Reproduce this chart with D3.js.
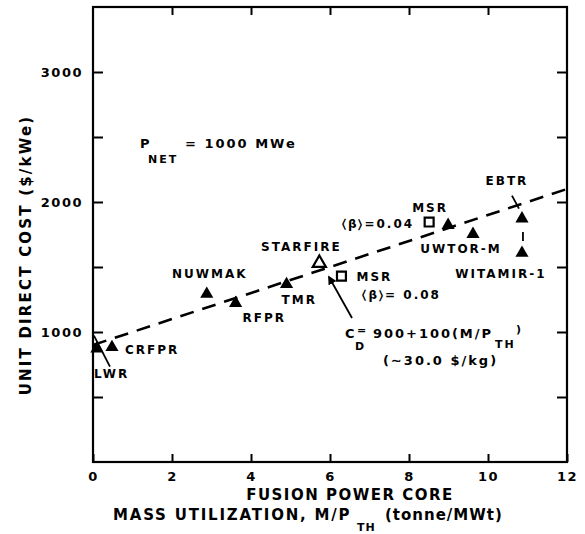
<!DOCTYPE html>
<html lang="en">
<head>
<meta charset="utf-8">
<title>Unit direct cost vs mass utilization</title>
<script src="https://d3js.org/d3.v7.min.js"></script>
<style>
  body { margin: 0; background: #fff; }
  svg { display: block; }
  text { font-family: "DejaVu Sans", sans-serif; font-weight: bold; fill: #000; }
  .axis path { display: none; }
  .axis line { stroke: #000; stroke-width: 2px; }
  .axis text { font-size: 13px; letter-spacing: 1.5px; }
</style>
</head>
<body>
<div id="chart"></div>
<script>
// filled triangles: designs
var triNames = ["LWR", "CRFPR", "NUWMAK", "RFPR", "TMR", "", "UWTOR-M", "EBTR", "WITAMIR-1"];
var triMass  = [0.1, 0.48, 2.88, 3.61, 4.9, 8.99, 9.62, 10.86, 10.86];
var triCost  = [880, 890, 1300, 1230, 1375, 1830, 1760, 1880, 1615];

// open markers
var openNames = ["STARFIRE", "MSR 0.08", "MSR 0.04"];
var openShape = ["triangle", "square", "square"];
var openMass  = [5.73, 6.29, 8.51];
var openCost  = [1530, 1430, 1846];

// fit line C_D = 900 + 100 (M/P_TH)
var fitIntercept = 900, fitSlope = 100;
var fitRange = [0, 12];

var xTicks = [0, 2, 4, 6, 8, 10, 12];
var yTicks = [500, 1000, 1500, 2000, 2500, 3000];
var yLabels = [1000, 2000, 3000];

var W = 585, H = 534;
var x = d3.scaleLinear().domain([0, 12]).range([93, 567]);
var y = d3.scaleLinear().domain([0, 3500]).range([462, 7]);

var svg = d3.select("#chart").append("svg")
    .attr("width", W).attr("height", H);

// frame
svg.append("rect")
    .attr("x", x(0)).attr("y", y(3500))
    .attr("width", x(12) - x(0)).attr("height", y(0) - y(3500))
    .attr("fill", "none").attr("stroke", "#000").attr("stroke-width", 2.2);

// axes, ticks pointing inward
svg.append("g").attr("class", "axis")
    .attr("transform", "translate(0," + y(0) + ")")
    .call(d3.axisBottom(x).tickValues(xTicks).tickSize(-8).tickPadding(10).tickFormat(d3.format("d")));
svg.append("g").attr("class", "axis")
    .attr("transform", "translate(0," + y(3500) + ")")
    .call(d3.axisTop(x).tickValues(xTicks.slice(1, -1)).tickSize(-8).tickFormat(""));
svg.append("g").attr("class", "axis")
    .attr("transform", "translate(" + x(0) + ",0)")
    .call(d3.axisLeft(y).tickValues(yTicks).tickSize(-10).tickPadding(10)
      .tickFormat(function(d) { return yLabels.indexOf(d) >= 0 ? d : ""; }));
svg.append("g").attr("class", "axis")
    .attr("transform", "translate(" + x(12) + ",0)")
    .call(d3.axisRight(y).tickValues(yTicks).tickSize(-10).tickFormat(""));

// dashed fit line
svg.append("line")
    .attr("x1", x(fitRange[0])).attr("y1", y(fitIntercept + fitSlope * fitRange[0]))
    .attr("x2", x(fitRange[1])).attr("y2", y(fitIntercept + fitSlope * fitRange[1]))
    .attr("stroke", "#000").attr("stroke-width", 2.6)
    .attr("stroke-dasharray", "14,9");

// markers
var tri = d3.symbol().type(d3.symbolTriangle).size(75);
var sq = d3.symbol().type(d3.symbolSquare).size(80);

svg.append("g").selectAll("path")
    .data(triMass)
    .enter().append("path")
    .attr("d", tri)
    .attr("transform", function(d, i) { return "translate(" + x(d) + "," + (y(triCost[i]) + 1) + ")"; })
    .attr("fill", "#000");

svg.append("g").selectAll("path")
    .data(openMass)
    .enter().append("path")
    .attr("d", function(d, i) { return openShape[i] == "square" ? sq() : tri(); })
    .attr("transform", function(d, i) { return "translate(" + x(d) + "," + y(openCost[i]) + ")"; })
    .attr("fill", "#fff").attr("stroke", "#000").attr("stroke-width", 2.2);

// labels, offsets in px from their marker
function lab(px, py, dx, dy, txt, anchor, size) {
  return svg.append("text")
    .attr("x", px + dx).attr("y", py + dy)
    .attr("text-anchor", anchor || "start")
    .style("font-size", (size || 12) + "px")
    .style("letter-spacing", "2px")
    .text(txt);
}
var triLab = [[-3, 30, "start"], [13, 8, "start"], [3, -15, "middle"], [7, 20, "start"],
              [-5, 21, "start"], null, [-12, 20, "middle"], [-15, -33, "middle"], [-21, 26, "middle"]];
triNames.forEach(function(n, i) {
  if (!n) return;
  var o = triLab[i];
  lab(x(triMass[i]), y(triCost[i]), o[0], o[1], n, o[2]);
});

var px = x(openMass[0]), py = y(openCost[0]);
lab(px, py, -18, -12, "STARFIRE", "middle");
px = x(openMass[1]); py = y(openCost[1]);
lab(px, py, 15, 5, "MSR", "start");
lab(px, py, 21, 23, "\u2329\u03B2\u232A= 0.08", "start");
px = x(openMass[2]); py = y(openCost[2]);
lab(px, py, -17, -10, "MSR", "start");
lab(px, py, -15, 6, "\u2329\u03B2\u232A=0.04", "end");

// leader lines
function lead(x1, y1, x2, y2, arrow) {
  var l = svg.append("line")
    .attr("x1", x1).attr("y1", y1).attr("x2", x2).attr("y2", y2)
    .attr("stroke", "#000").attr("stroke-width", 1.8);
  if (arrow) l.attr("marker-end", "url(#head)");
}
svg.append("defs").append("marker")
    .attr("id", "head").attr("viewBox", "0 0 10 10")
    .attr("refX", 8).attr("refY", 5)
    .attr("markerWidth", 5).attr("markerHeight", 5)
    .attr("orient", "auto")
  .append("path").attr("d", "M0,0L10,5L0,10z").attr("fill", "#000");

px = x(triMass[0]); py = y(triCost[0]);
lead(px - 3, py - 12, px + 13, py + 19);
px = x(triMass[7]); py = y(triCost[7]);
lead(px - 10, py - 22, px - 3, py - 9);
px = x(triMass[8]); py = y(triCost[8]);
lead(px + 1, py - 20, px + 1, py - 11);

// fit equation
lead(352, 318, 329, 277, true);
lab(345, 338, 0, 0, "C", "start", 13);
lab(355, 350, 0, 0, "D", "start", 11);
lab(357, 334, 0, 0, "=", "start", 11);
lab(373, 338, 0, 0, "900+100(M/P", "start", 13).attr("textLength", 120).attr("lengthAdjust", "spacing");
lab(495, 348, 0, 0, "TH", "start", 11);
lab(516, 333, 0, 0, ")", "start", 11);
lab(383, 365, 0, 0, "(\u223C30.0 $/kg)", "start", 13);

// net power note
lab(140, 148, 0, 0, "P", "start", 13);
lab(148, 163, 0, 0, "NET", "start", 11);
lab(185, 148, 0, 0, "= 1000 MWe", "start", 13);

// axis titles
svg.append("text")
    .attr("x", 350).attr("y", 500)
    .attr("text-anchor", "middle")
    .style("font-size", "15px").style("letter-spacing", "1.5px")
    .text("FUSION POWER CORE");
svg.append("text")
    .attr("x", 113).attr("y", 520)
    .style("font-size", "15px").style("letter-spacing", "1.8px")
    .text("MASS UTILIZATION, M/P");
svg.append("text")
    .attr("x", 357).attr("y", 531)
    .style("font-size", "11px").style("letter-spacing", "1px")
    .text("TH");
svg.append("text")
    .attr("x", 385).attr("y", 520)
    .style("font-size", "15px").style("letter-spacing", "1px")
    .text("(tonne/MWt)");
svg.append("text")
    .attr("transform", "translate(31,255) rotate(-90)")
    .attr("text-anchor", "middle")
    .style("font-size", "15px").style("letter-spacing", "2.2px")
    .text("UNIT DIRECT COST ($/kWe)");
</script>
</body>
</html>
